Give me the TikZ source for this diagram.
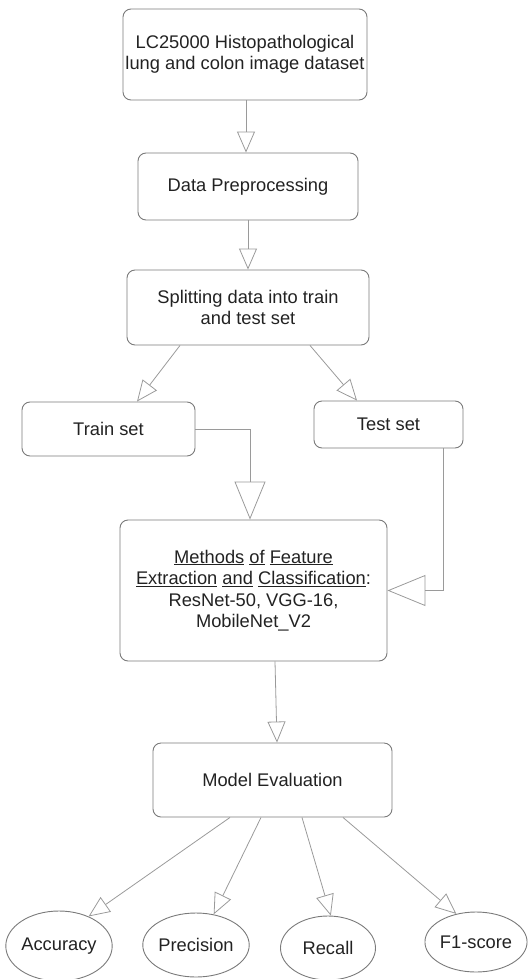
\documentclass[tikz,border=0pt]{standalone}
\usepackage{fontspec}
\setmainfont{Liberation Sans}
\usetikzlibrary{arrows.meta,shapes.geometric}
\definecolor{boxline}{HTML}{7A7A7A}
\definecolor{conline}{HTML}{9A9A9A}
\definecolor{txt}{HTML}{222222}
\newcommand\ulw[1]{\underline{#1}}
\tikzset{
  box/.style={draw=boxline, line width=0.9pt, rounded corners=8pt, inner sep=0pt, align=center, text=txt, font=\fontsize{18.3}{21.5}\selectfont},
  oval/.style={draw=boxline, line width=0.9pt, ellipse, inner sep=0pt, text=txt, font=\fontsize{18.3}{21.5}\selectfont},
  con/.style={draw=conline, line width=0.8pt, -{Triangle[open,length=21pt,width=18pt]}},
  bigcon/.style={draw=conline, line width=0.8pt, -{Triangle[open,length=38pt,width=31pt]}}
}
\begin{document}
\begin{tikzpicture}[x=1pt,y=-1pt]
\useasboundingbox (0,0) rectangle (528,979);
\node[box, minimum width=244pt, minimum height=91pt] (b1) at (245,54.5) {LC25000 Histopathological\\lung and colon image dataset};
\node[box, minimum width=220pt, minimum height=67pt] (b2) at (248,186.5) {Data Preprocessing};
\node[box, minimum width=242pt, minimum height=75pt] (b3) at (248,307.5) {Splitting data into train\\and test set};
\node[box, minimum width=173pt, minimum height=54pt] (train) at (108.5,429) {Train set};
\node[box, minimum width=149pt, minimum height=47pt] (test) at (388.5,424.5) {Test set};
\node[box, minimum width=267pt, minimum height=141pt] (meth) at (253.5,590.5) {\ulw{Methods} \ulw{of} \ulw{Feature}\\\ulw{Extraction} \ulw{and} \ulw{Classification}:\\ResNet-50, VGG-16,\\MobileNet\_V2};
\node[box, minimum width=239pt, minimum height=74pt] (me) at (272.5,780) {Model Evaluation};
\node[oval, minimum width=94pt, minimum height=70pt] (acc) at (59,946) {Accuracy};
\node[oval, minimum width=95pt, minimum height=64pt] (prec) at (196,945) {Precision};
\node[oval, minimum width=95pt, minimum height=64pt] (rec) at (328,948) {Recall};
\node[oval, minimum width=92pt, minimum height=60pt] (f1) at (476,942) {F1-score};

\draw[con] ([xshift=1pt]b1.south) -- ([xshift=-2pt]b2.north);
\draw[con] (b2.south) -- (b3.north);
\draw[con] ([xshift=-68pt]b3.south) -- ([xshift=28.5pt]train.north);
\draw[con] ([xshift=62pt]b3.south) -- ([xshift=-31.5pt]test.north);
\draw[bigcon] (train.east) -| ([xshift=-3.5pt]meth.north);
\draw[bigcon] ([xshift=54.5pt]test.south) |- (meth.east);
\draw[con] ([xshift=21.5pt]meth.south) -- ([xshift=4.5pt]me.north);
\draw[con] ([xshift=-42.5pt]me.south) -- (acc.45);
\draw[con] ([xshift=-11.5pt]me.south) -- (prec.60);
\draw[con] ([xshift=29.5pt]me.south) -- (rec.85);
\draw[con] ([xshift=70.5pt]me.south) -- (f1.125);
\end{tikzpicture}
\end{document}
